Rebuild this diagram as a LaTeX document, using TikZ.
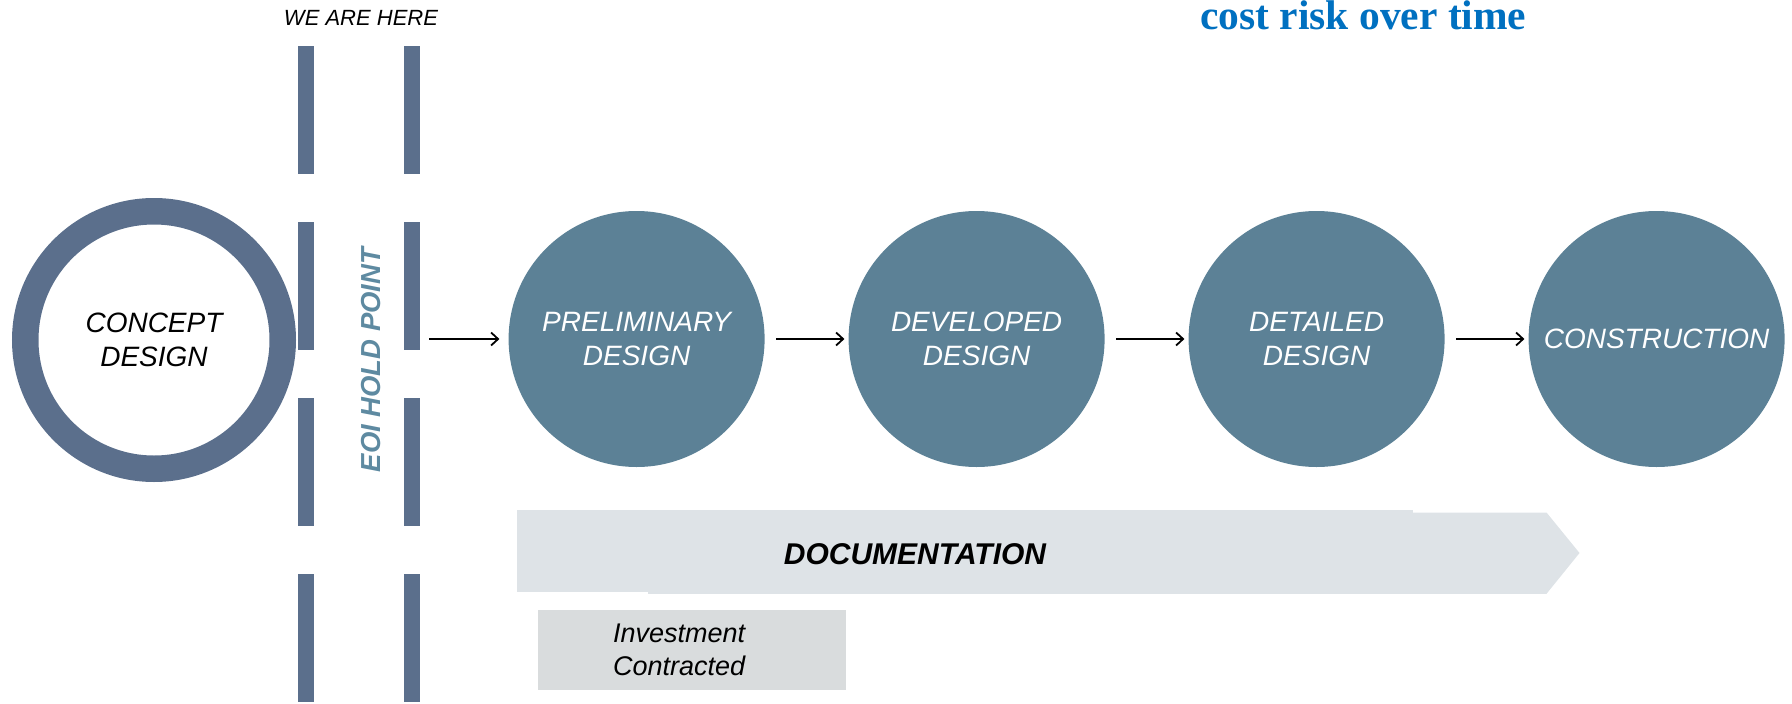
\documentclass[tikz,border=0pt]{standalone}
\usepackage{fontspec}
\setmainfont{Liberation Sans}
\newfontfamily\titleserif{Liberation Serif}
\usetikzlibrary{arrows.meta}

\definecolor{ringslate}{HTML}{5B6F8C}
\definecolor{stagefill}{HTML}{5C8196}
\definecolor{holdtext}{HTML}{5E8AA1}
\definecolor{docfill}{HTML}{DEE3E7}
\definecolor{investfill}{HTML}{D9DCDD}
\definecolor{titleblue}{HTML}{0070C0}

\begin{document}
\begin{tikzpicture}[x=1pt,y=-1pt,
  stagetext/.style={align=center, font=\fontsize{28}{34}\selectfont\itshape},
  stage/.style={stagetext, circle, fill=stagefill, minimum size=256pt, inner sep=0pt, text=white},
  ring/.style={stagetext, circle, draw=ringslate, line width=26.5pt, minimum size=257.5pt, inner sep=0pt},
  holdbar/.style={fill=ringslate},
  flow/.style={-{Straight Barb[length=7pt,width=13pt]}, line width=1.8pt, black,
               shorten <=11.5pt, shorten >=4pt},
]
\useasboundingbox (0,0) rectangle (1792,704);

% heading
\node[anchor=base west, inner sep=0pt, text=titleblue,
      font=\titleserif\bfseries\fontsize{41.5}{48}\selectfont] (title) at (1200,29) {cost risk over time};

% hold point marker
\node[anchor=base, inner sep=0pt, font=\fontsize{22}{26}\selectfont\itshape] (here) at (361,25) {WE ARE HERE};
\foreach \y in {46,222,398,574} {
  \fill[holdbar] (298,\y) rectangle (314,\y+128);
  \fill[holdbar] (404,\y) rectangle (420,\y+128);
}
\node[rotate=90, inner sep=0pt, text=holdtext,
      font=\fontsize{27.5}{30}\selectfont\bfseries\itshape] (eoi) at (371,360) {EOI HOLD POINT};

% design stages
\node[ring]  (concept)  at (154,340)   {CONCEPT\\DESIGN};
\node[stage] (prelim)   at (636.6,339) {PRELIMINARY\\DESIGN};
\node[stage] (developed) at (976.6,339) {DEVELOPED\\DESIGN};
\node[stage] (detailed) at (1316.6,339) {DETAILED\\DESIGN};
\node[stage] (construct) at (1656.6,339) {CONSTRUCTION};

\coordinate (holdexit) at (429,339);
\draw[flow, shorten <=0pt, shorten >=9pt] (holdexit) -- (prelim);
\draw[flow] (prelim) -- (developed);
\draw[flow] (developed) -- (detailed);
\draw[flow] (detailed) -- (construct);

% documentation band
\fill[docfill] (516.6,510) rectangle (1413,592);
\fill[docfill] (648,512.5) -- (1546.5,512.5) -- (1579.5,553) -- (1546.5,593.8) -- (648,593.8) -- cycle;
\node[font=\fontsize{30}{34}\selectfont\bfseries\itshape] (doc) at (915,554) {DOCUMENTATION};

% investment box
\node[fill=investfill, minimum width=307.6pt, minimum height=79.7pt, inner xsep=75pt, inner ysep=0pt,
      text width=157.6pt, align=left, font=\fontsize{27}{33}\selectfont\itshape] (invest)
      at (691.8,649.8) {Investment\\Contracted};
\end{tikzpicture}
\end{document}
